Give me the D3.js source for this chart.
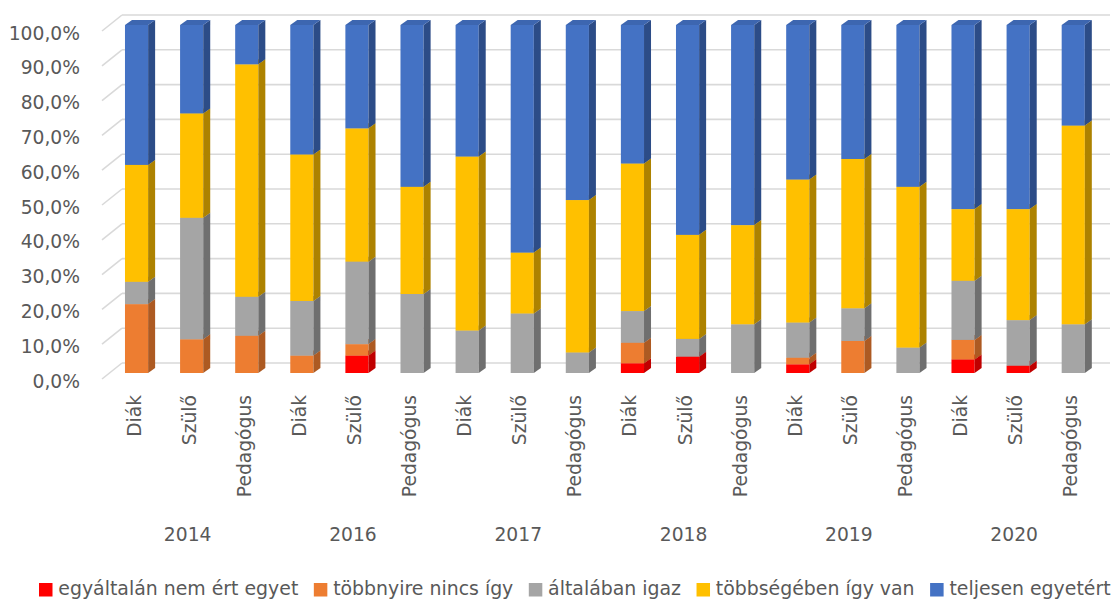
<!DOCTYPE html>
<html>
<head>
<meta charset="utf-8">
<script src="https://cdn.jsdelivr.net/npm/d3@7"></script>
<style>
  html, body { margin: 0; padding: 0; background: #ffffff; }
  svg { display: block; }
  text { font-family: "DejaVu Sans", "Open Sans", sans-serif; fill: #595959; font-size: 18.7px; }
</style>
</head>
<body>
<svg id="chart" width="1113" height="600"></svg>
<script>
// ---- data ----
const years = ["2014", "2016", "2017", "2018", "2019", "2020"];
const roles = ["Diák", "Szülő", "Pedagógus"];
const seriesNames = ["egyáltalán nem ért egyet", "többnyire nincs így", "általában igaz", "többségében így van", "teljesen egyetért"];
// values in %, order: 2014 D,S,P | 2016 D,S,P | 2017 | 2018 | 2019 | 2020
const nemErt     = [0,   0,    0,    0,    5.0, 0,    0,    0,    0,    2.8,  4.7,  0,    2.5,  0,    0,    3.9,  2.1,  0];
const tobbnyire  = [19.8, 9.7, 10.7, 5.0,  3.3, 0,    0,    0,    0,    5.9,  0,    0,    1.9,  9.2,  0,    5.6,  0,    0];
const altalaban  = [6.4, 34.9, 11.2, 15.7, 23.7, 22.7, 12.2, 17.1, 5.9,  9.1,  5.1,  14.0, 10.1, 9.4,  7.3,  17.0, 13.1, 14.0];
const tobbseg    = [33.6, 30.0, 66.8, 42.1, 38.3, 30.8, 50.0, 17.5, 43.8, 42.4, 29.9, 28.5, 41.1, 42.9, 46.2, 20.6, 31.9, 57.1];
const teljesen   = [40.2, 25.4, 11.3, 37.2, 29.7, 46.5, 37.8, 65.4, 50.3, 39.8, 60.3, 57.5, 44.4, 38.5, 46.5, 52.9, 52.9, 28.9];
const yTicks = [0, 10, 20, 30, 40, 50, 60, 70, 80, 90, 100];

const seriesValues = [nemErt, tobbnyire, altalaban, tobbseg, teljesen];
const frontColors = ["#ff0000", "#ed7d31", "#a5a5a5", "#ffc000", "#4472c4"];
const sideColors  = ["#c00000", "#ad5a22", "#6f6f6f", "#ad8200", "#2c4c87"];
const topColors   = ["#e60000", "#d4702c", "#959595", "#e6ad00", "#3d66b0"];

const keys = [];
years.forEach(y => roles.forEach(r => keys.push(y + "|" + r)));

// ---- scales ----
const svg = d3.select("#chart");
const x = d3.scaleBand().domain(keys).range([109, 1100.8]).paddingInner(0.58).paddingOuter(0.29);
const y = d3.scaleLinear().domain([0, 100]).range([373, 25]);

// 3D offsets
const wallDx = 20, wallDy = -16, wallFront = 6;   // gridline slant
const barDx = 7, barDy = -5;

// ---- gridlines (back wall) ----
const grid = svg.append("g");
yTicks.forEach(t => {
  const yf = y(t) + wallFront;
  const yb = yf + wallDy;
  grid.append("line").attr("x1", 102).attr("y1", yf).attr("x2", 102 + wallDx).attr("y2", yb)
    .attr("stroke", "#d9d9d9").attr("stroke-width", 1.6);
  grid.append("line").attr("x1", 102 + wallDx).attr("y1", yb).attr("x2", 1110).attr("y2", yb)
    .attr("stroke", "#d9d9d9").attr("stroke-width", 1.6);
});

// ---- y axis labels ----
const fmt = v => v.toFixed(1).replace(".", ",") + "%";
svg.append("g").selectAll("text").data(yTicks).join("text")
  .attr("x", 80).attr("y", d => y(d) + wallFront + 8.5)
  .attr("text-anchor", "end")
  .text(d => fmt(d));

// ---- bars ----
const stackData = keys.map((k, i) => {
  const o = { key: k };
  seriesNames.forEach((s, j) => o[s] = seriesValues[j][i]);
  return o;
});
const stacked = d3.stack().keys(seriesNames)(stackData);

const barsG = svg.append("g");
keys.forEach((k, i) => {
  const g = barsG.append("g");
  const x0 = x(k), x1 = x(k) + x.bandwidth();
  stacked.forEach((layer, j) => {
    const d = layer[i];
    if (d[1] - d[0] <= 0) return;
    const yb = y(d[0]), yt = y(d[1]);
    g.append("rect").attr("x", x0).attr("y", yt).attr("width", x1 - x0).attr("height", yb - yt)
      .attr("fill", frontColors[j]);
    g.append("path")
      .attr("d", `M${x1},${yb}L${x1 + barDx},${yb + barDy}L${x1 + barDx},${yt + barDy}L${x1},${yt}Z`)
      .attr("fill", sideColors[j]);
    g.append("path")
      .attr("d", `M${x0},${yt}L${x0 + barDx},${yt + barDy}L${x1 + barDx},${yt + barDy}L${x1},${yt}Z`)
      .attr("fill", topColors[j]);
  });
});

// ---- category labels ----
svg.append("g").selectAll("text").data(keys).join("text")
  .attr("transform", d => `translate(${x(d) + x.bandwidth() / 2 + 4},395) rotate(-90)`)
  .attr("text-anchor", "end")
  .text(d => d.split("|")[1]);

// ---- year labels ----
svg.append("g").selectAll("text").data(years).join("text")
  .attr("x", yr => x(yr + "|Szülő") + x.bandwidth() / 2 - 4)
  .attr("y", 541)
  .attr("text-anchor", "middle")
  .text(yr => yr);

// ---- legend ----
const leg = svg.append("g");
let lx = 39;
seriesNames.forEach((s, j) => {
  leg.append("rect").attr("x", lx).attr("y", 583).attr("width", 13.5).attr("height", 13.5).attr("fill", frontColors[j]);
  const t = leg.append("text").attr("x", lx + 19.3).attr("y", 595).style("font-size", "18.9px").text(s);
  lx += 19.3 + t.node().getComputedTextLength() + 15.5;
});
</script>
</body>
</html>
